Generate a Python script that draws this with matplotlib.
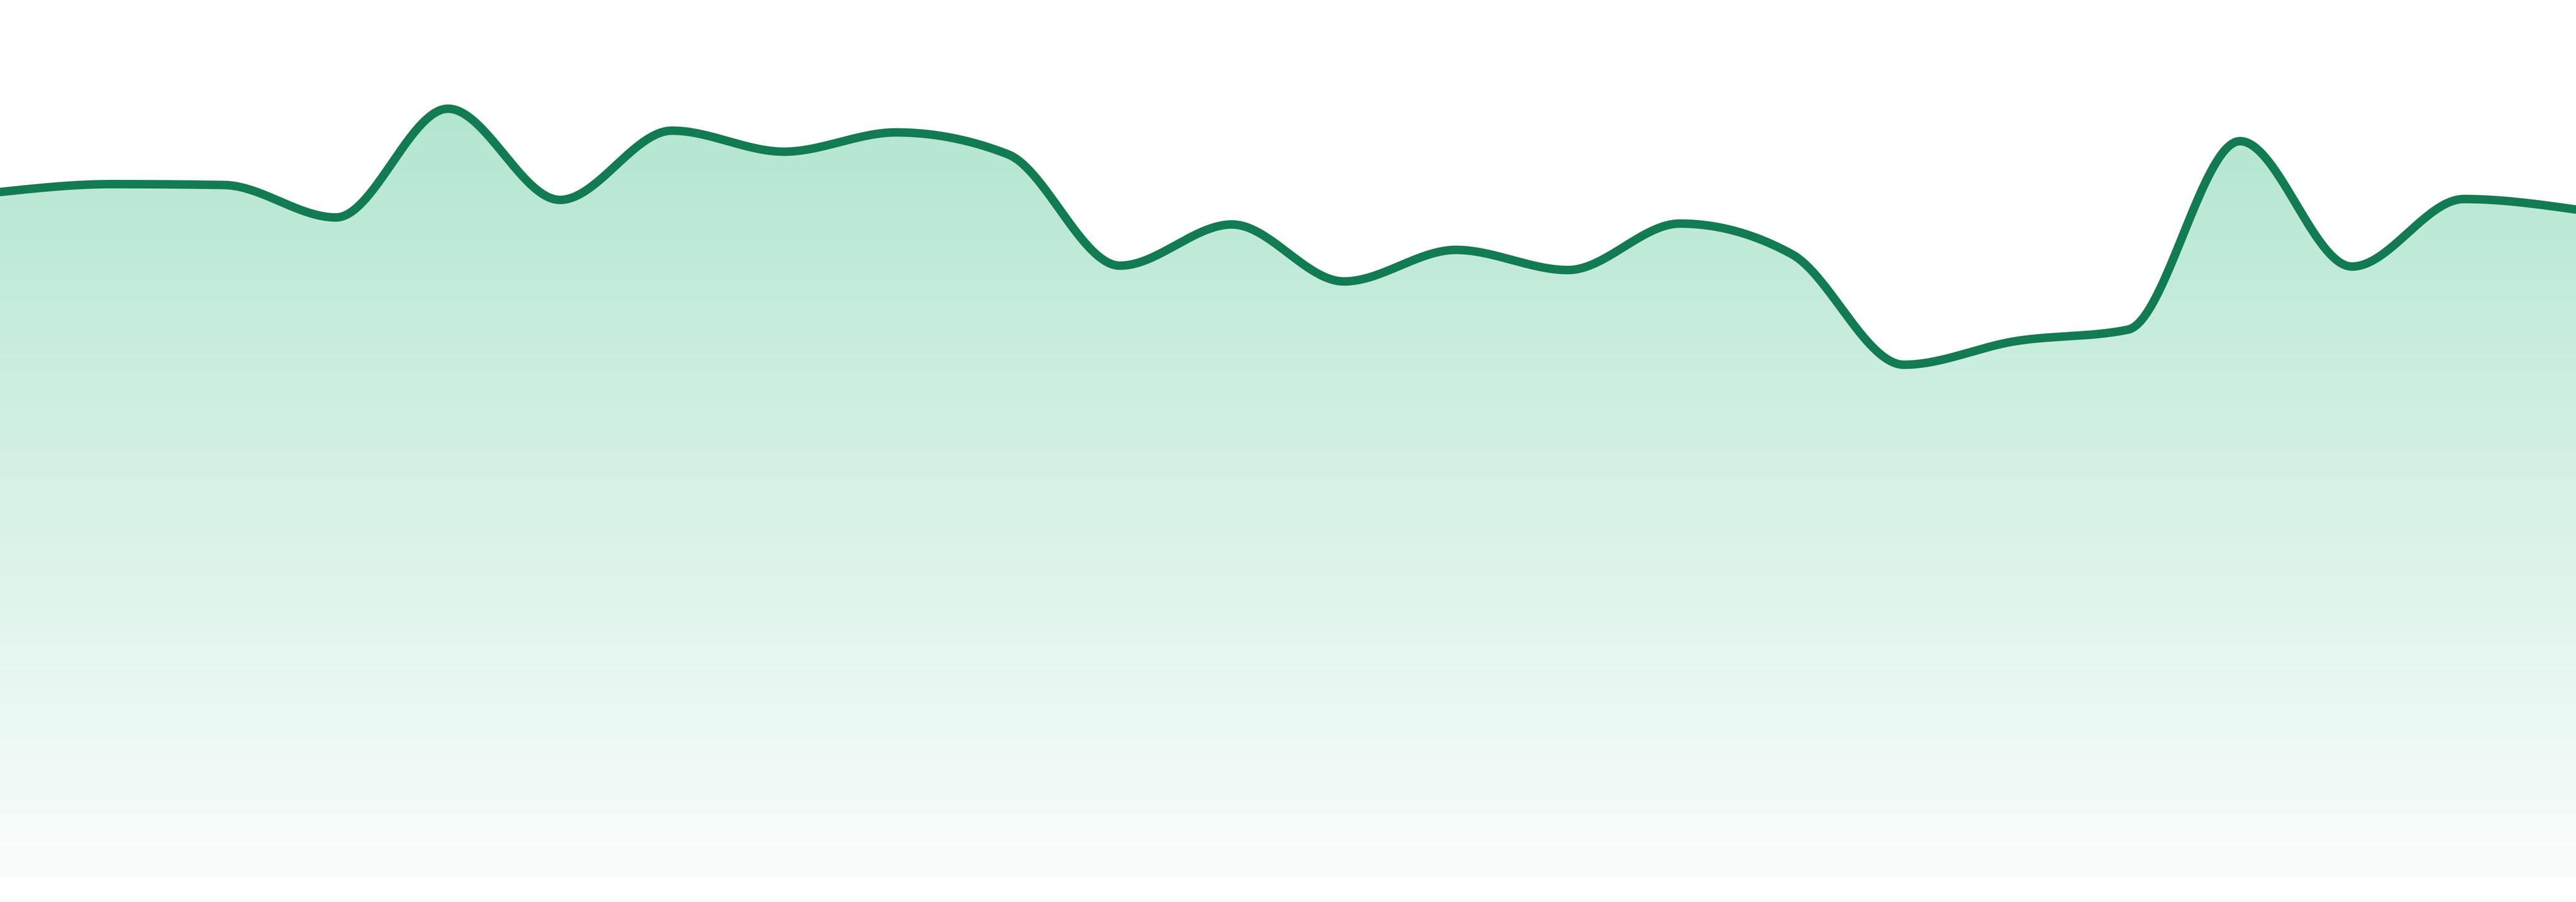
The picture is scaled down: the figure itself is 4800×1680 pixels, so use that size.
import numpy as np
import matplotlib
matplotlib.use("Agg")
import matplotlib.pyplot as plt
from matplotlib.patches import Polygon

# series values, one per step (no axis labels shown on the chart)
values = [78.1, 79.0, 78.9, 75.2, 87.6, 77.2, 85.1, 82.7, 84.9, 82.4,
          69.7, 74.4, 67.9, 71.5, 69.2, 74.5, 71.0, 58.4, 61.1, 62.4,
          83.9, 69.6, 77.3, 76.1]
steps = list(range(len(values)))

line_color = "#127b51"
top_color = np.array([178, 230, 208]) / 255
bottom_color = np.array([250, 253, 252]) / 255


def monotone_x(xs, ys, n=80):
    # same tangents as d3.curveMonotoneX, evaluated as cubic hermite
    xs = np.asarray(xs, float)
    ys = np.asarray(ys, float)
    h = np.diff(xs)
    s = np.diff(ys) / h
    t = np.zeros(len(xs))
    for i in range(1, len(xs) - 1):
        p = (s[i - 1] * h[i] + s[i] * h[i - 1]) / (h[i - 1] + h[i])
        t[i] = (np.sign(s[i - 1]) + np.sign(s[i])) * min(abs(s[i - 1]), abs(s[i]), 0.5 * abs(p))
    t[0] = (3 * s[0] - t[1]) / 2
    t[-1] = (3 * s[-1] - t[-2]) / 2
    px, py = [], []
    for i in range(len(xs) - 1):
        u = np.linspace(0, 1, n, endpoint=(i == len(xs) - 2))
        h00 = 2 * u**3 - 3 * u**2 + 1
        h10 = u**3 - 2 * u**2 + u
        h01 = -2 * u**3 + 3 * u**2
        h11 = u**3 - u**2
        px.append(xs[i] + u * h[i])
        py.append(h00 * ys[i] + h10 * h[i] * t[i] + h01 * ys[i + 1] + h11 * h[i] * t[i + 1])
    return np.concatenate(px), np.concatenate(py)


sx, sy = monotone_x(steps, values)

fig = plt.figure(figsize=(16, 5.6), dpi=300)
ax = fig.add_axes([0, 47 / 1680, 1, 1633 / 1680])
ax.set_xlim(steps[0], steps[-1])
ax.set_ylim(0, 100)
ax.axis("off")

# gradient fill under the curve
top = sy.max()
grad = np.linspace(0, 1, 512)[:, None]
rgb = top_color[None, :] * (1 - grad) + bottom_color[None, :] * grad
img = np.dstack([rgb[:, None, 0], rgb[:, None, 1], rgb[:, None, 2]])
im = ax.imshow(img, extent=[steps[0], steps[-1], 0, top], aspect="auto",
               origin="upper", interpolation="bicubic", zorder=1)
verts = np.column_stack([np.r_[sx, sx[-1], sx[0]], np.r_[sy, 0, 0]])
area = Polygon(verts, closed=True, facecolor="none", edgecolor="none")
ax.add_patch(area)
im.set_clip_path(area)

ax.plot(sx, sy, color=line_color, lw=3.8, solid_capstyle="round",
        solid_joinstyle="round", zorder=3)

fig.savefig("out.png", dpi=300, facecolor="white")
